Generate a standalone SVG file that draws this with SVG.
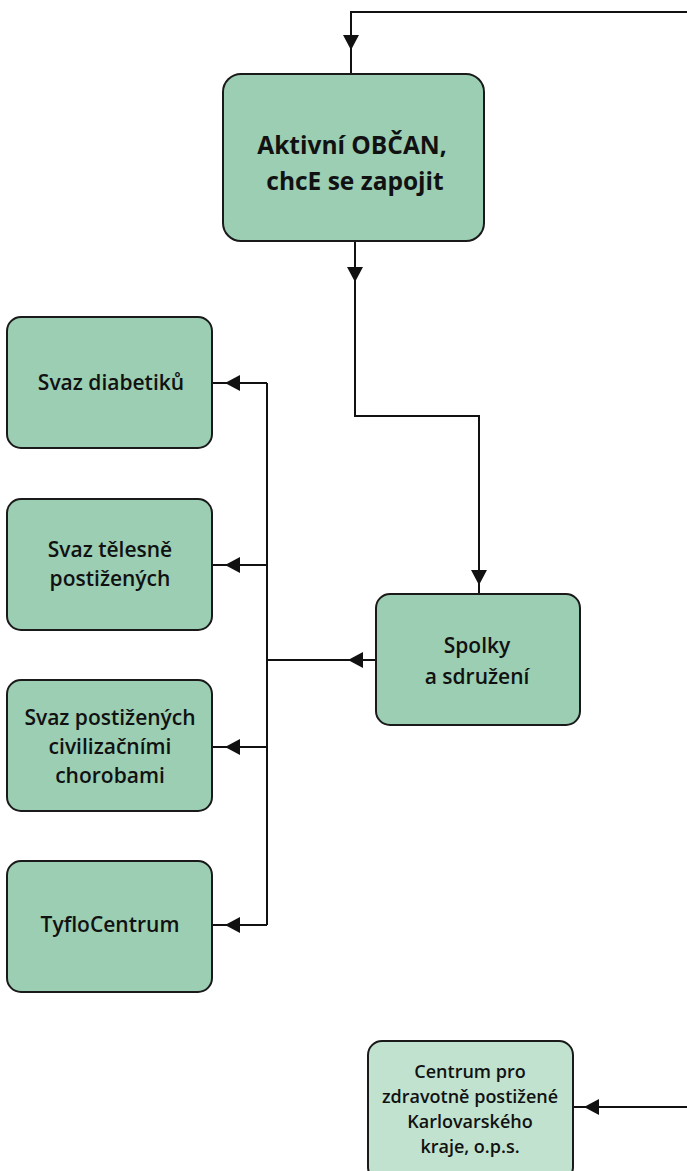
<svg xmlns="http://www.w3.org/2000/svg" xmlns:xlink="http://www.w3.org/1999/xlink" width="687" height="1171" viewBox="0 0 687 1171">
<style>
.box{fill:#9bceb3;stroke:#1a1a1a;stroke-width:2}
.box2{fill:#c0e2cf;stroke:#1a1a1a;stroke-width:2}
.t{font-family:"Open Sans","Liberation Sans",sans-serif;font-weight:600;fill:#111;text-anchor:middle}
.tb{font-family:"Open Sans","Liberation Sans",sans-serif;font-weight:700;fill:#111;text-anchor:middle}
.ln{fill:none;stroke:#111;stroke-width:2}
</style>
<defs>
<path id="ah" d="M0,0 L-15,-8 L-15,8 Z" fill="#111"/>
</defs>
<g id="connectors">
<path class="ln" d="M687,12 H351 V74"/>
<use xlink:href="#ah" transform="translate(351,50) rotate(90)"/>
<path class="ln" d="M355,241 V416 H479 V594"/>
<use xlink:href="#ah" transform="translate(355,282) rotate(90)"/>
<use xlink:href="#ah" transform="translate(479,585) rotate(90)"/>
<path class="ln" d="M376,660 H267"/>
<use xlink:href="#ah" transform="translate(348,660) rotate(180)"/>
<path class="ln" d="M267,383 V925"/>
<path class="ln" d="M267,383 H212 M267,565 H212 M267,747 H212 M267,925 H212"/>
<use xlink:href="#ah" transform="translate(225,383) rotate(180)"/>
<use xlink:href="#ah" transform="translate(225,565) rotate(180)"/>
<use xlink:href="#ah" transform="translate(225,747) rotate(180)"/>
<use xlink:href="#ah" transform="translate(225,925) rotate(180)"/>
<path class="ln" d="M687,1107 H573"/>
<use xlink:href="#ah" transform="translate(584,1107) rotate(180)"/>
</g>
<g id="n-obcan">
<rect class="box" x="223" y="74" width="261" height="167" rx="18"/>
<text class="tb" x="352" y="154" font-size="24.5">Aktivní OBČAN,</text>
<text class="tb" x="355" y="190" font-size="24.5">chcE se zapojit</text>
</g>
<g id="n-spolky">
<rect class="box" x="376" y="594" width="204" height="131" rx="14"/>
<text class="t" x="477" y="653" font-size="21">Spolky</text>
<text class="t" x="477" y="684" font-size="21">a sdružení</text>
</g>
<g id="n-diabetiku">
<rect class="box" x="7" y="317" width="205" height="131" rx="14"/>
<text class="t" x="111" y="390" font-size="21">Svaz diabetiků</text>
</g>
<g id="n-telesne">
<rect class="box" x="7" y="499" width="205" height="131" rx="14"/>
<text class="t" x="110" y="557" font-size="21">Svaz tělesně</text>
<text class="t" x="110" y="586" font-size="21">postižených</text>
</g>
<g id="n-civilizacni">
<rect class="box" x="7" y="680" width="205" height="131" rx="14"/>
<text class="t" x="110" y="725" font-size="21">Svaz postižených</text>
<text class="t" x="110" y="754" font-size="21">civilizačními</text>
<text class="t" x="110" y="783" font-size="21">chorobami</text>
</g>
<g id="n-tyflo">
<rect class="box" x="7" y="861" width="205" height="131" rx="14"/>
<text class="t" x="110" y="932" font-size="21">TyfloCentrum</text>
</g>
<g id="n-centrum">
<rect class="box2" x="368" y="1041" width="205" height="140" rx="14"/>
<text class="t" x="470" y="1078" font-size="18">Centrum pro</text>
<text class="t" x="470" y="1103" font-size="18">zdravotně postižené</text>
<text class="t" x="470" y="1128" font-size="18">Karlovarského</text>
<text class="t" x="470" y="1153" font-size="18">kraje, o.p.s.</text>
</g>
</svg>
